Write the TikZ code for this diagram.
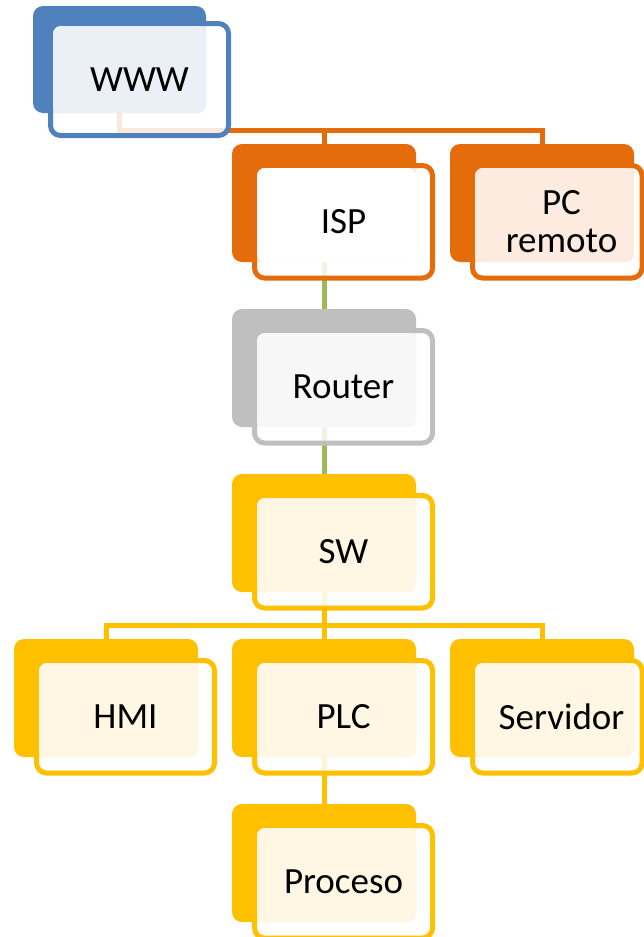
\documentclass[tikz,border=0pt]{standalone}
\usepackage{fontspec}
\setmainfont{Carlito}
\usetikzlibrary{calc}
\pgfdeclarelayer{wires}
\pgfsetlayers{wires,main}

\definecolor{netblue}{HTML}{4F81BD}
\definecolor{bluetint}{HTML}{EBF0F7}
\definecolor{netorange}{HTML}{E46C0A}
\definecolor{orangetint}{HTML}{FCEBDE}
\definecolor{netgray}{HTML}{BFBFBF}
\definecolor{graytint}{HTML}{F7F7F7}
\definecolor{netyellow}{HTML}{FFC000}
\definecolor{yellowtint}{HTML}{FFF6E3}
\definecolor{netgreen}{HTML}{9BBB59}

\tikzset{
  backcard/.style={fill=#1, draw=none, rounded corners=10pt,
    minimum width=184pt, minimum height=118pt, anchor=north west,
    inner sep=0pt, outer sep=0pt},
  frontcard/.style={draw=#1, line width=5pt, fill=white, fill opacity=0.85,
    rounded corners=10pt, minimum width=178pt, minimum height=112.5pt,
    anchor=north west, inner sep=0pt, outer sep=0pt},
  tintcard/.style={fill=#1, rounded corners=8pt},
  caption/.style={font=\fontsize{37}{38}\selectfont, align=center,
    inner sep=0pt, text=black},
  wire/.style={draw=#1, line width=5pt},
}

% one card of the chart: back block, outlined front, tinted text area, caption
% #1 name, #2 back top-left, #3 main colour, #4 tint, #5 caption, #6 front width
\newcommand\orgcard[6]{%
  \node[backcard=#3] (#1-b) at (#2) {};
  \node[frontcard=#3, minimum width=#6] (#1-f) at ($(#1-b.north west)+(22.5,21.5)$) {};
  \fill[tintcard=#4] ($(#1-f.north west)+(2.5,2.5)$) rectangle (#1-b.south east);
  \node[caption] (#1) at ($(#1-b.center)+(19.5,19)$) {#5};
}

\begin{document}
\begin{tikzpicture}[x=1pt,y=-1pt]
\useasboundingbox (0,0) rectangle (644,937);
\clip (0,0) rectangle (644,937);

% top card (slightly smaller)
\node[backcard=netblue, minimum width=173pt, minimum height=107pt] (www-b) at (33,6) {};
\node[frontcard=netblue, minimum width=178pt, minimum height=112pt] (www-f) at (50.5,23.5) {};
\fill[tintcard=bluetint] ($(www-f.north west)+(2.5,2.5)$) rectangle (www-b.south east);
\node[caption] (www) at (www-f.center) {WWW};

\orgcard{isp}{232,144}{netorange}{white}{ISP}{178pt}
\orgcard{pc}{450,144}{netorange}{orangetint}{PC\\remoto}{169.5pt}
\orgcard{rt}{232,309}{netgray}{graytint}{Router}{178pt}
\orgcard{sw}{232,474}{netyellow}{yellowtint}{SW}{178pt}
\orgcard{hmi}{14,639}{netyellow}{yellowtint}{HMI}{178pt}
\orgcard{plc}{232,639}{netyellow}{yellowtint}{PLC}{178pt}
\orgcard{srv}{450,639}{netyellow}{yellowtint}{Servidor}{169.5pt}
\orgcard{proc}{232,804}{netyellow}{yellowtint}{Proceso}{178pt}

\begin{pgfonlayer}{wires}
  \coordinate (topbus) at (0,130);
  \coordinate (lanbus) at (0,625.5);
  \draw[wire=netorange] (www-b.center) |- (pc-b.center |- topbus) -- (pc-b.center);
  \draw[wire=netorange] (isp-b.center |- topbus) -- (isp-b.center);
  \draw[wire=netgreen] (isp-b.center) -- (rt-b.center) -- (sw-b.center);
  \draw[wire=netyellow] (sw-b.center) -- (plc-b.center) -- (proc-b.center);
  \draw[wire=netyellow] (hmi-b.center) |- (srv-b.center |- lanbus) -- (srv-b.center);
\end{pgfonlayer}
\end{tikzpicture}
\end{document}
